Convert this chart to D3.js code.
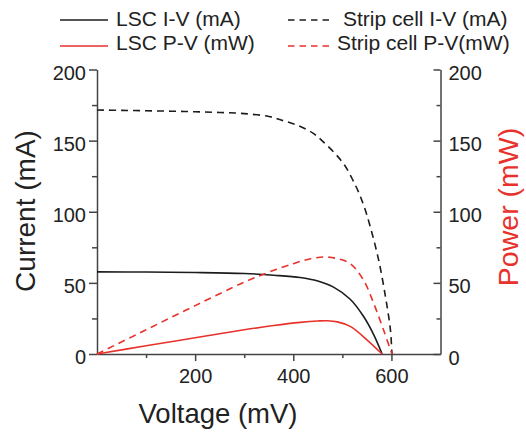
<!DOCTYPE html>
<html>
<head>
<meta charset="utf-8">
<script src="https://cdn.jsdelivr.net/npm/d3@7"></script>
<style>
  body { margin: 0; background: #fff; }
  text { font-family: "Liberation Sans", Arial, sans-serif; fill: #222; }
</style>
</head>
<body>
<svg id="chart" width="526" height="432"></svg>
<script>
// strip cell I-V (mA), dashed black
var stripIvV = [0, 50, 100, 150, 200, 250, 300, 350, 380, 410, 440, 460, 485, 505, 520, 533, 545, 557, 574, 588, 598, 601];
var stripIvI = [171.5, 171.3, 171, 170.7, 170.3, 169.8, 169, 167, 164, 160.6, 155.3, 149.5, 141, 132.5, 123.2, 113.8, 103, 89.3, 66, 40, 16.8, 0];
// strip cell P-V (mW), dashed red
var stripPvV = [0, 100, 200, 300, 350, 400, 435, 465, 490, 516, 543, 564, 584, 601];
var stripPvP = [0, 17, 34, 50.5, 57.5, 63.5, 67, 68.2, 67, 63.5, 52, 35.5, 16.8, 0];
// LSC I-V (mA), solid black
var lscIvV = [0, 100, 200, 300, 360, 414, 450, 482, 516, 543, 564, 581];
var lscIvI = [57.7, 57.6, 57.3, 56.6, 55.4, 53.8, 51.3, 47, 38.5, 26.5, 13.5, 0];
// LSC P-V (mW), solid red
var lscPvV = [0, 100, 200, 300, 360, 414, 450, 469, 490, 516, 550, 581];
var lscPvP = [0, 5.8, 11.4, 17, 20, 22.2, 23.2, 23.4, 22.6, 19.4, 10, 0];

var xMajor = [200, 400, 600];
var xMinor = [100, 300, 500];
var yMajor = [0, 50, 100, 150, 200];
var yMinor = [25, 75, 125, 175];

var legendLabels = ["LSC I-V (mA)", "Strip cell I-V (mA)", "LSC P-V (mW)", "Strip cell P-V(mW)"];

var black = "#1c1c1c", red = "#e8312b", axisCol = "#444";

var svg = d3.select("#chart");
var x = d3.scaleLinear().domain([0, 700]).range([97, 440.5]);
var y = d3.scaleLinear().domain([0, 200]).range([354, 69.5]);
var yP = d3.scaleLinear().domain([0, 200]).range([354, 69.5]);

function styleAxis(g) {
    g.selectAll("path, line").attr("stroke", axisCol).attr("stroke-width", 1.5);
    g.selectAll("text").style("font-size", "20px").attr("fill", "#222");
}

// bottom axis
var gx = svg.append("g").attr("transform", "translate(0,354)")
    .call(d3.axisBottom(x).tickValues(xMajor).tickSizeInner(7).tickSizeOuter(0).tickPadding(8));
gx.call(styleAxis);
svg.append("g").attr("transform", "translate(0,354)")
    .call(d3.axisBottom(x).tickValues(xMinor).tickSize(4).tickFormat(""))
    .call(g => g.select(".domain").remove()).call(styleAxis);

// left axis
var gy = svg.append("g").attr("transform", "translate(97,0)")
    .call(d3.axisLeft(y).tickValues(yMajor).tickSizeInner(8).tickSizeOuter(0).tickPadding(3));
gy.call(styleAxis);
gy.selectAll("text").attr("dy", "0.48em");
svg.append("g").attr("transform", "translate(97,0)")
    .call(d3.axisLeft(y).tickValues(yMinor).tickSize(5).tickFormat(""))
    .call(g => g.select(".domain").remove()).call(styleAxis);

// right axis (ticks inward)
var gr = svg.append("g").attr("transform", "translate(440.5,0)")
    .call(d3.axisRight(yP).tickValues(yMajor).tickSizeInner(-7).tickSizeOuter(0).tickPadding(8));
gr.call(styleAxis);
gr.selectAll("text").attr("dy", "0.5em");
svg.append("g").attr("transform", "translate(440.5,0)")
    .call(d3.axisRight(yP).tickValues(yMinor).tickSize(-4).tickFormat(""))
    .call(g => g.select(".domain").remove()).call(styleAxis);

// curves
function curve(vs, vals, scale, color, dash) {
    var pts = vs.map((v, i) => [v, vals[i]]);
    var line = d3.line().x(d => x(d[0])).y(d => scale(d[1])).curve(d3.curveCatmullRom.alpha(0.5));
    svg.append("path").datum(pts)
        .attr("d", line)
        .attr("fill", "none")
        .attr("stroke", color)
        .attr("stroke-width", 1.6)
        .attr("stroke-dasharray", dash);
}
curve(stripIvV, stripIvI, y, black, "7,5");
curve(lscIvV, lscIvI, y, black, null);
curve(stripPvV, stripPvP, yP, red, "7,5");
curve(lscPvV, lscPvP, yP, red, null);

// axis titles
svg.append("text").attr("x", 218).attr("y", 423).attr("text-anchor", "middle")
    .style("font-size", "27.5px").text("Voltage (mV)");
svg.append("text").attr("transform", "translate(35,211) rotate(-90)").attr("text-anchor", "middle")
    .style("font-size", "28px").text("Current (mA)");
svg.append("text").attr("transform", "translate(518,207) rotate(-90)").attr("text-anchor", "middle")
    .style("font-size", "28.5px").style("fill", red).text("Power (mW)");

// legend
var legendColors = [black, black, red, red];
var legendDash = [null, "6.5,5", null, "6.5,5"];
var legendLineX = [60, 288];
var legendTextX = [[116, 343], [116, 337]];
var legendRowY = [20, 46];
legendLabels.forEach(function (label, i) {
    var row = Math.floor(i / 2), col = i % 2;
    var ly = legendRowY[row];
    svg.append("line")
        .attr("x1", legendLineX[col]).attr("x2", legendLineX[col] + (col ? 42 : 48))
        .attr("y1", ly).attr("y2", ly)
        .attr("stroke", legendColors[i]).attr("stroke-width", 1.6)
        .attr("stroke-dasharray", legendDash[i]);
    svg.append("text")
        .attr("x", legendTextX[row][col]).attr("y", ly + 5.5 + row * -1.5)
        .style("font-size", "21px").text(label);
});
</script>
</body>
</html>
